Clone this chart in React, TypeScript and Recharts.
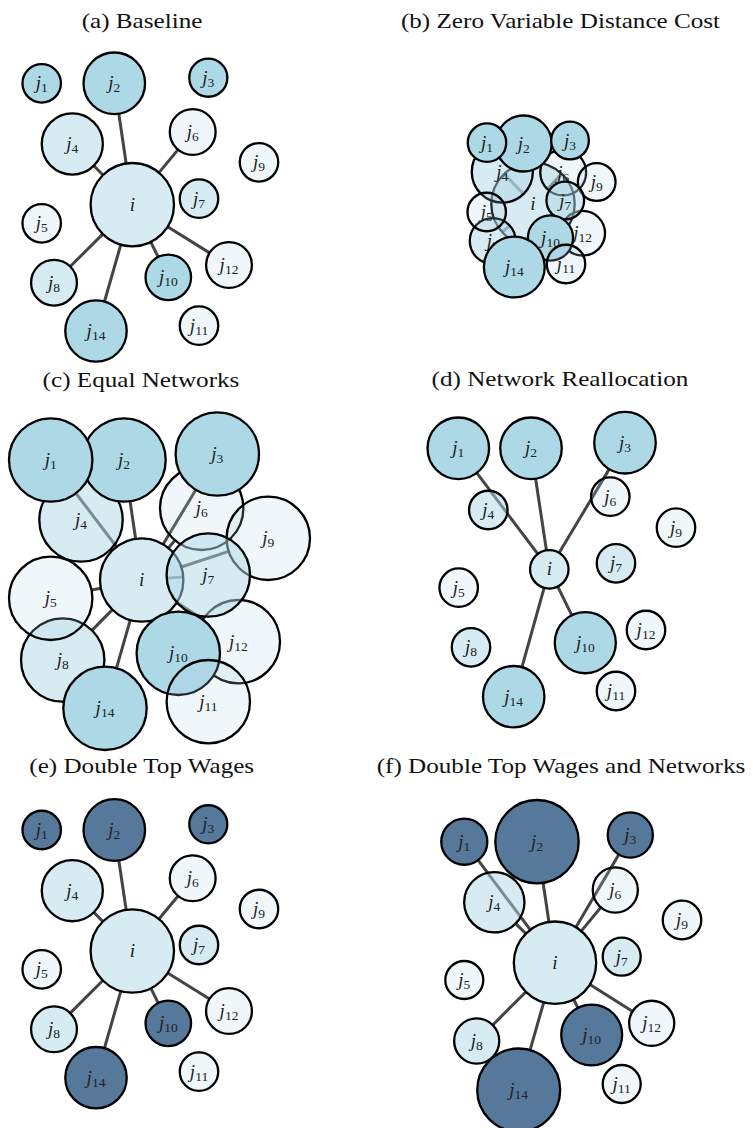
import React from 'react';
import { ScatterChart, Scatter, XAxis, YAxis, ZAxis } from 'recharts';

// ---- data (node order = drawing order) ----
const nodeIds = ['i', 'j12', 'j6', 'j9', 'j4', 'j8', 'j5', 'j7', 'j10', 'j11', 'j14', 'j2', 'j1', 'j3'];
const nodeTier = ['mid', 'low', 'low', 'low', 'mid', 'mid', 'low', 'mid', 'high', 'low', 'high', 'high', 'high', 'high'];

// (a) Baseline
const baselineX = [132.3, 229, 192.7, 259, 72.3, 54, 41.7, 199, 168.3, 199, 96, 114.3, 41.7, 208.3];
const baselineY = [204.7, 265, 132, 162.3, 144, 282.7, 223.3, 198.7, 277.3, 325.7, 331, 83.3, 83.3, 77.7];
const baselineZ = [4.7, 1.42, 1.42, 1, 2.52, 1.42, 1, 1, 1.4, 1, 2.55, 2.56, 1, 0.98];

// (b) Zero Variable Distance Cost
const zeroCostX = [157, 206.7, 187.2, 220.7, 126.3, 116.7, 110.7, 189.3, 174.5, 190, 138.3, 147.7, 111, 194];
const zeroCostY = [204, 233.3, 172.5, 182, 172, 241, 212, 200.5, 238, 264, 267, 143.5, 142.7, 140.5];
const zeroCostZ = [4.7, 1.35, 1.42, 0.96, 2.52, 1.42, 1, 0.96, 1.38, 1, 2.5, 2.12, 1, 0.96];

// (c) Equal Networks
const equalX = [141.7, 238.3, 201.7, 268.3, 81, 62.7, 50.7, 208.3, 178.3, 208.3, 105, 124, 50.7, 217.3];
const equalY = [220, 281.7, 148.3, 178.3, 160, 300, 238.3, 215, 293.3, 341.7, 348.3, 100, 100, 94];
const equalZ = [4.7, 4.7, 4.7, 4.7, 4.7, 4.7, 4.7, 4.7, 4.7, 4.7, 4.7, 4.7, 4.7, 4.7];

// (d) Network Reallocation
const reallocX = [173.3, 270, 234.3, 300, 112.3, 95, 82.7, 240, 209.3, 240, 137.7, 155, 82.3, 249];
const reallocY = [209.3, 270, 136.7, 167.7, 150, 287.3, 227.7, 203.3, 282.7, 331, 336.7, 88.3, 88.3, 82.7];
const reallocZ = [1, 1, 1, 1, 1, 1, 1, 1, 2.52, 1, 2.55, 2.56, 2.56, 2.56];

// (e) Double Top Wages
const doubleWageX = [132.3, 229, 192.7, 259, 72.3, 54, 41.7, 199, 168.3, 199, 96, 114.3, 41.7, 208.3];
const doubleWageY = [211, 271, 138.3, 169, 150.7, 289.3, 229.3, 205, 283.3, 331.7, 337.7, 90, 90, 84.3];
const doubleWageZ = [4.7, 1.42, 1.42, 1, 2.52, 1.42, 1, 1, 1.4, 1, 2.55, 2.56, 1, 0.98];

// (f) Double Top Wages and Networks
const doubleBothX = [179, 275.7, 239.3, 306, 118.3, 100.7, 88.3, 245.7, 215.7, 245.7, 142.7, 161, 88.3, 254.3];
const doubleBothY = [222.7, 283.3, 150, 180, 162.3, 301, 240, 216.7, 295, 344, 350, 101.7, 101.7, 95];
const doubleBothZ = [4.7, 1.41, 1.41, 1.03, 2.52, 1.41, 1, 1, 2.57, 1, 4.77, 4.82, 1.47, 1.41];

// links from i
const baselineLinks = ['j2', 'j4', 'j6', 'j8', 'j14', 'j10', 'j12'];
const equalLinks = ['j1', 'j2', 'j3', 'j4', 'j5', 'j6', 'j7', 'j8', 'j9', 'j10', 'j11', 'j12', 'j14'];
const reallocLinks = ['j1', 'j2', 'j3', 'j10', 'j14'];
const doubleBothLinks = ['j1', 'j2', 'j3', 'j4', 'j6', 'j8', 'j10', 'j12', 'j14'];

const panelTitles = [
  '(a) Baseline',
  '(b) Zero Variable Distance Cost',
  '(c) Equal Networks',
  '(d) Network Reallocation',
  '(e) Double Top Wages',
  '(f) Double Top Wages and Networks',
];

// ---- styling / scale ----
const Z_MAX = 4.7;
const R_MAX = 41.7;
const AREA_MAX = Math.PI * R_MAX * R_MAX;
const radiusOf = (z: number) => Math.sqrt(((z / Z_MAX) * AREA_MAX) / Math.PI);

const LIGHT = '#ADD8E6';
const DARK = '#56789A';
const tierOpacity: Record<string, number> = { high: 1, mid: 0.5, low: 0.2 };

type NodeDatum = { id: string; x: number; y: number; z: number; tier: string };

const buildNodes = (xs: number[], ys: number[], zs: number[]): NodeDatum[] =>
  nodeIds.map((id, k) => ({ id, x: xs[k], y: ys[k], z: zs[k], tier: nodeTier[k] }));

const buildEdges = (nodes: NodeDatum[], links: string[]) => {
  const src = nodes.find((n) => n.id === 'i')!;
  return links.map((t) => {
    const dst = nodes.find((n) => n.id === t)!;
    const dx = dst.x - src.x;
    const dy = dst.y - src.y;
    const d = Math.hypot(dx, dy);
    const ra = radiusOf(src.z);
    const rb = radiusOf(dst.z);
    return [
      { x: src.x + (dx / d) * ra, y: src.y + (dy / d) * ra },
      { x: dst.x - (dx / d) * rb, y: dst.y - (dy / d) * rb },
    ];
  });
};

const EmptyShape = () => <g />;

const makeNodeShape = (highColor: string) => (props: any) => {
  const { cx, cy, payload } = props;
  const r =
    props.width && props.width > 0
      ? props.width / 2
      : props.size
      ? Math.sqrt(props.size / Math.PI)
      : radiusOf(payload.z);
  const tier = payload.tier as string;
  const fill = tier === 'high' ? highColor : LIGHT;
  const op = tierOpacity[tier];
  const id: string = payload.id;
  const letter = id.charAt(0);
  const sub = id.slice(1);
  return (
    <g>
      <circle cx={cx} cy={cy} r={r} fill={fill} fillOpacity={op} stroke="#000" strokeWidth={2.3} />
      <text
        x={cx}
        y={cy + 6}
        textAnchor="middle"
        fontFamily="'Liberation Serif', serif"
        fill="#222"
      >
        <tspan fontStyle="italic" fontSize={19}>{letter}</tspan>
        {sub ? (
          <tspan fontSize={13.5} dy={3}>{sub}</tspan>
        ) : null}
      </text>
    </g>
  );
};

type PanelProps = {
  left: number;
  top: number;
  width: number;
  height: number;
  nodes: NodeDatum[];
  links: string[];
  highColor: string;
};

const Panel = ({ left, top, width, height, nodes, links, highColor }: PanelProps) => {
  const edges = buildEdges(nodes, links);
  const shape = makeNodeShape(highColor);
  return (
    <div style={{ position: 'absolute', left, top, width, height }}>
      <ScatterChart width={width} height={height} margin={{ top: 0, right: 0, bottom: 0, left: 0 }}>
        <XAxis type="number" dataKey="x" domain={[0, width]} allowDataOverflow hide />
        <YAxis type="number" dataKey="y" domain={[0, height]} allowDataOverflow reversed hide />
        <ZAxis type="number" dataKey="z" domain={[0, Z_MAX]} range={[0, AREA_MAX]} />
        {edges.map((seg, k) => (
          <Scatter
            key={'e' + k}
            data={seg}
            line={{ stroke: '#444444', strokeWidth: 3 }}
            lineType="joint"
            shape={EmptyShape}
            isAnimationActive={false}
          />
        ))}
        <Scatter data={nodes} shape={shape} isAnimationActive={false} />
      </ScatterChart>
    </div>
  );
};

const titlePos = [
  { x: 142, y: 27.5 },
  { x: 560.5, y: 27.5 },
  { x: 141, y: 386.5 },
  { x: 560, y: 386 },
  { x: 141.7, y: 773.3 },
  { x: 561, y: 773.3 },
];

export default function App() {
  const a = buildNodes(baselineX, baselineY, baselineZ);
  const b = buildNodes(zeroCostX, zeroCostY, zeroCostZ);
  const c = buildNodes(equalX, equalY, equalZ);
  const d = buildNodes(reallocX, reallocY, reallocZ);
  const e = buildNodes(doubleWageX, doubleWageY, doubleWageZ);
  const f = buildNodes(doubleBothX, doubleBothY, doubleBothZ);
  return (
    <div
      style={{
        position: 'absolute',
        left: 0,
        top: 0,
        width: 753,
        height: 1128,
        background: '#fff',
        overflow: 'hidden',
      }}
    >
      <svg width={753} height={1128} style={{ position: 'absolute', left: 0, top: 0 }}>
        {panelTitles.map((t, k) => (
          <g key={t} transform={`translate(${titlePos[k].x},${titlePos[k].y}) scale(1.17,1)`}>
            <text
              x={0}
              y={0}
              textAnchor="middle"
              fontFamily="'Liberation Serif', serif"
              fontSize={21.5}
              fill="#111"
            >
              {t}
            </text>
          </g>
        ))}
      </svg>
      <Panel left={0} top={0} width={376} height={370} nodes={a} links={baselineLinks} highColor={LIGHT} />
      <Panel left={376} top={0} width={377} height={370} nodes={b} links={baselineLinks} highColor={LIGHT} />
      <Panel left={0} top={360} width={376} height={392} nodes={c} links={equalLinks} highColor={LIGHT} />
      <Panel left={376} top={360} width={377} height={392} nodes={d} links={reallocLinks} highColor={LIGHT} />
      <Panel left={0} top={740} width={376} height={388} nodes={e} links={baselineLinks} highColor={DARK} />
      <Panel left={376} top={740} width={377} height={388} nodes={f} links={doubleBothLinks} highColor={DARK} />
    </div>
  );
}
